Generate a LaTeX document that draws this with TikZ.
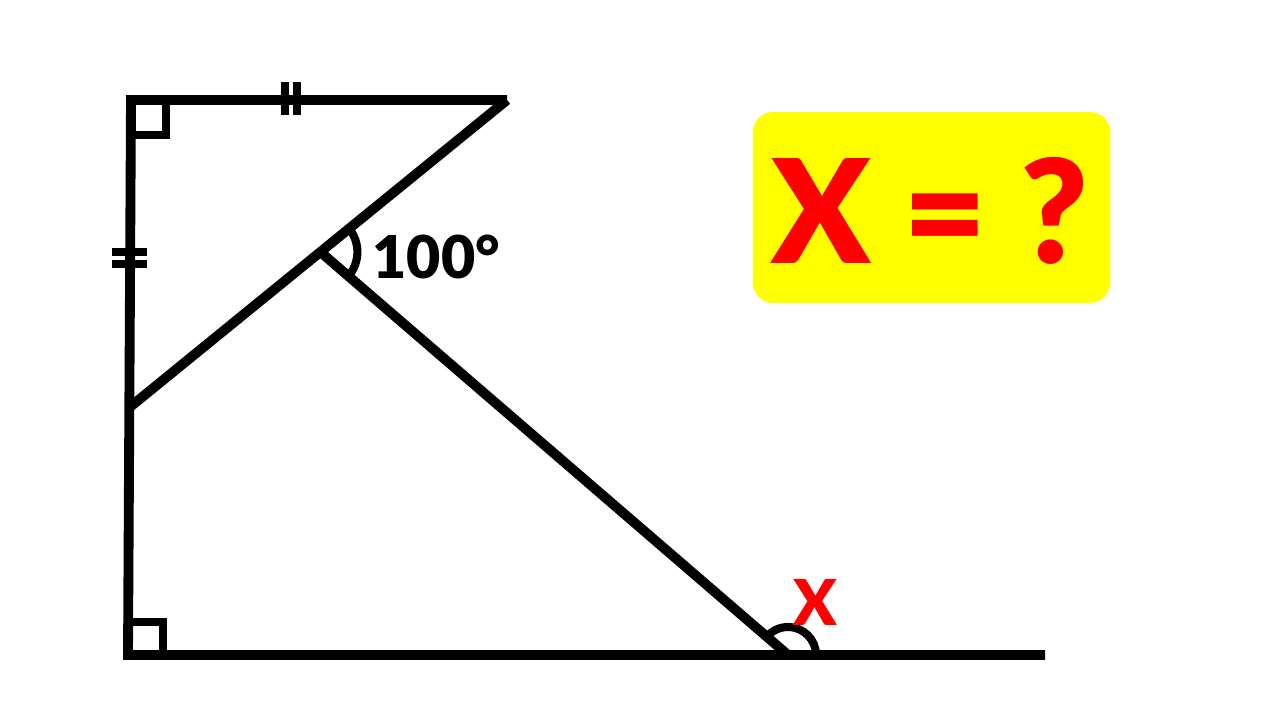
\documentclass[tikz,border=0pt]{standalone}
\usepackage{fontspec}
\setmainfont{Lato}[BoldFont={Lato Black}]
\usepackage{xcolor}
\usetikzlibrary{calc}
\definecolor{qred}{RGB}{255,0,0}
\definecolor{qyellow}{RGB}{255,255,0}

\begin{document}
\begin{tikzpicture}[x=0.01cm,y=0.01cm,
  bar/.style={line width=2.8pt, line join=miter},
  sq/.style={line width=2.5pt},
  tk/.style={line width=2.1pt},
  ang/.style={line width=2.3pt}]
\useasboundingbox (0,0) rectangle (1280,720);
\coordinate (A) at (131,620);
\coordinate (B) at (507,620);
\coordinate (D) at (130,313);
\coordinate (C) at (128,65);
\coordinate (E) at (788,65);
\coordinate (F) at (1045,65);
\coordinate (P) at ($(B)!0.495!(D)$);
\coordinate (M1) at (291,620);
\coordinate (M2) at (130,462);

\draw[bar] (B) -- (A) -- (C) -- (F);
\draw[bar] (B) -- (D);
\draw[bar] (P) -- (E);

\draw[sq] ($(A)+(35,0)$) |- ($(A)+(0,-35)$);
\draw[sq] ($(C)+(0,33)$) -| ($(C)+(35,0)$);
\foreach \d in {-6,6} {
  \draw[tk] ($(M1)+(\d,-15)$) -- ($(M1)+(\d,18)$);
  \draw[tk] ($(M2)+(-18,\d)$) -- ($(M2)+(17,\d)$);
}

\draw[ang] ($(P)+(39.2:37)$) arc[start angle=39.2, end angle=-40.8, radius=0.37cm];
\draw[ang] ($(E)+(28,0)$) arc[start angle=0, end angle=139.2, radius=0.28cm];

\node[anchor=base west, inner sep=0pt, font=\fontsize{16.8}{16.8}\selectfont\bfseries] (lbl100) at (372,442) {100°};
\node[anchor=base, inner sep=0pt, text=qred, font=\fontsize{18}{18}\selectfont\bfseries] (lblx) at (815,95) {X};

\fill[qyellow, rounded corners=0.2cm] (753,417) rectangle (1110,608);
\node[anchor=base, inner sep=0pt, text=qred, font=\fontsize{41}{41}\selectfont\bfseries] (ask) at (930,457) {X = ?};
\end{tikzpicture}
\end{document}
